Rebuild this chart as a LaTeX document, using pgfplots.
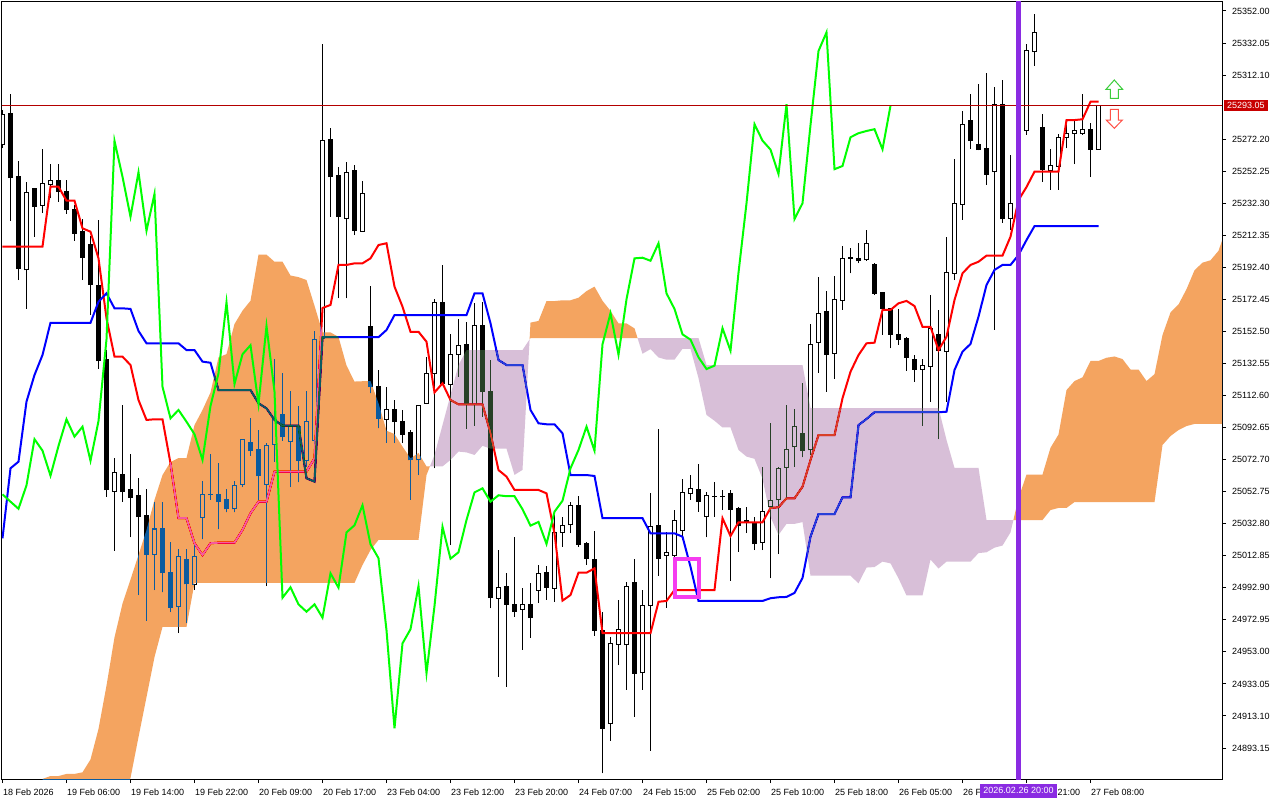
\documentclass[border=0pt]{standalone}
\usepackage{pgfplots}
\pgfplotsset{compat=1.18}
\usepackage{pgfplotstable}
\usepackage{fontspec}
\setmainfont{Liberation Sans}
\definecolor{cloudO}{HTML}{0B5B9F}% complement of sandybrown, used with difference blending
\definecolor{cloudT}{HTML}{274027}% complement of thistle
\definecolor{tenkan}{HTML}{FF0000}
\definecolor{kijun}{HTML}{0000FF}
\definecolor{chikou}{HTML}{00FF00}
\definecolor{vline}{HTML}{8A2BE2}
\definecolor{pline}{HTML}{B40000}
\definecolor{pbox}{HTML}{C80000}
\definecolor{sq}{HTML}{F53CF0}

\pgfplotstableread{
x o h l c
0 25269.0 25290.4 25266.7 25287.7
1 25287.9 25300.3 25221.3 25248.2
2 25248.7 25258.6 25184.5 25191.6
3 25190.9 25245.4 25166.5 25238.7
4 25241.2 25241.8 25211.5 25230.2
5 25231.0 25266.1 25226.2 25244.3
6 25244.1 25256.7 25235.4 25246.2
7 25246.2 25256.7 25233.3 25239.5
8 25239.9 25246.8 25225.8 25228.3
9 25228.7 25231.2 25209.0 25213.6
10 25214.6 25222.3 25184.5 25198.4
11 25206.8 25211.9 25162.7 25181.6
12 25181.4 25221.9 25129.3 25134.1
13 25135.2 25140.9 25049.6 25053.8
14 25053.0 25073.9 25016.0 25064.6
15 25063.7 25106.7 25046.5 25052.7
16 25053.8 25076.2 25024.3 25049.2
17 25050.1 25061.1 24988.4 25037.2
18 25037.6 25054.2 24972.4 25013.9
19 25013.8 25046.5 24991.5 25029.5
20 25029.5 25046.5 24990.1 25002.3
21 25002.7 25021.6 24977.8 24980.8
22 24981.4 25017.2 24964.6 25012.1
23 25010.8 25016.9 24970.8 24995.4
24 24995.1 25022.7 24991.5 25012.1
25 25036.8 25059.4 25023.1 25051.1
26 25050.9 25076.2 25047.6 25051.1
27 25051.1 25070.8 25029.3 25046.5
28 25047.6 25054.2 25039.9 25042.1
29 25042.1 25059.4 25039.9 25056.7
30 25057.3 25085.8 25055.5 25085.4
31 25083.5 25098.4 25075.1 25078.3
32 25079.1 25091.1 25047.6 25062.7
33 25057.3 25082.9 24994.0 25081.2
34 25082.2 25135.3 25071.4 25097.8
35 25100.5 25126.4 25084.5 25087.0
36 25083.9 25115.4 25055.5 25093.2
37 25093.2 25106.1 25058.6 25072.0
38 25072.0 25115.4 25068.3 25096.7
39 25084.9 25152.8 25081.8 25147.6
40 25148.4 25331.5 25144.1 25271.1
41 25272.3 25279.0 25223.9 25248.8
42 25249.5 25254.7 25173.1 25223.9
43 25222.7 25257.8 25173.1 25251.6
44 25252.4 25256.1 25212.5 25215.2
45 25214.8 25246.2 25214.4 25238.1
46 25155.4 25180.8 25114.0 25118.1
47 25118.5 25128.5 25092.2 25098.4
48 25097.8 25117.7 25083.2 25103.6
49 25103.6 25109.8 25082.9 25096.3
50 25096.7 25103.6 25082.9 25088.5
51 25089.7 25091.1 25047.6 25072.5
52 25072.5 25106.7 25063.1 25106.1
53 25107.8 25136.4 25107.3 25126.4
54 25126.4 25172.5 25067.3 25170.6
55 25170.6 25193.9 25119.2 25119.8
56 25119.6 25150.7 25019.5 25138.3
57 25138.3 25160.2 25124.3 25143.9
58 25144.5 25158.2 25091.8 25107.3
59 25107.3 25170.4 25093.8 25155.9
60 25155.9 25171.0 25099.4 25115.0
61 25115.4 25134.7 24980.1 24986.7
62 24986.4 25016.4 24937.5 24993.2
63 24994.0 25001.9 24931.3 24982.6
64 24982.2 25024.7 24974.9 24978.0
65 24979.5 24992.6 24954.2 24982.6
66 24982.2 24996.1 24961.8 24974.3
67 24991.5 25007.1 24983.3 25001.9
68 25002.7 25006.5 24985.3 24993.0
69 24992.6 25040.9 24984.2 25027.4
70 25027.4 25037.2 25018.5 25031.8
71 25032.0 25046.5 25026.8 25044.3
72 25044.3 25050.1 25018.5 25020.0
73 25020.6 25021.4 25007.1 25011.3
74 25010.6 25028.3 24962.9 24966.4
75 24966.6 24977.6 24877.4 24905.4
76 24908.5 24962.1 24897.7 24958.3
77 24957.7 24985.3 24944.8 24967.1
78 24957.3 24996.7 24929.3 24994.0
79 24996.3 25010.6 24912.6 24939.7
80 24940.0 24991.5 24929.3 24981.6
81 24981.8 25051.7 24891.5 25030.9
82 25031.4 25091.6 25000.4 25011.0
83 25013.1 25027.4 24980.5 25015.0
84 25013.3 25041.3 25010.2 25035.1
85 25028.3 25060.4 25022.7 25052.3
86 25051.7 25063.1 25047.6 25054.8
87 25054.4 25070.0 25040.3 25046.5
88 25037.2 25052.3 25024.3 25050.5
89 25049.7 25058.8 25037.2 25049.9
90 25049.7 25053.8 25041.3 25049.9
91 25051.9 25053.8 24997.3 25041.8
92 25042.0 25043.0 25015.4 25031.6
93 25034.5 25043.2 25027.0 25033.9
94 25033.4 25037.2 25016.4 25020.2
95 25021.2 25068.3 25016.4 25040.3
96 25043.4 25095.3 24998.8 25047.1
97 25047.6 25068.3 25013.8 25067.3
98 25067.9 25106.5 25048.6 25078.7
99 25080.7 25104.0 25068.3 25093.2
100 25089.1 25120.2 25074.1 25078.3
101 25078.7 25157.1 25075.6 25144.5
102 25145.7 25186.2 25126.8 25163.8
103 25164.6 25177.9 25115.0 25138.0
104 25138.9 25187.0 25123.1 25172.5
105 25171.9 25205.7 25165.9 25198.0
106 25198.1 25204.6 25188.7 25198.4
107 25198.0 25207.4 25194.9 25196.5
108 25197.0 25215.7 25196.4 25207.4
109 25193.9 25194.9 25175.2 25176.2
110 25176.6 25177.2 25150.3 25166.5
111 25166.9 25167.4 25142.0 25150.7
112 25150.9 25166.3 25144.1 25147.4
113 25147.8 25148.9 25128.1 25136.4
114 25135.3 25137.8 25121.2 25129.1
115 25128.9 25135.2 25093.8 25131.2
116 25130.6 25175.2 25108.8 25154.5
117 25150.9 25165.9 25085.5 25140.5
118 25139.9 25211.1 25108.8 25189.1
119 25188.7 25259.7 25184.5 25232.3
120 25231.7 25289.7 25221.9 25281.5
121 25284.1 25300.1 25266.1 25271.3
122 25269.0 25306.6 25265.2 25265.7
123 25266.5 25313.2 25243.7 25250.5
124 25252.0 25304.5 25153.4 25293.9
125 25293.9 25309.0 25220.2 25222.5
126 25222.9 25262.4 25215.7 25232.3
127 25231.2 25285.4 25226.9 25281.0
128 25277.9 25331.3 25274.8 25327.1
129 25326.7 25350.1 25318.0 25338.7
130 25279.4 25287.9 25245.7 25253.5
131 25253.0 25265.9 25240.6 25255.5
132 25255.1 25275.2 25240.6 25273.4
133 25273.4 25284.1 25266.5 25275.9
134 25275.9 25283.7 25256.6 25277.3
135 25275.9 25300.1 25274.8 25278.4
136 25278.4 25282.1 25248.5 25265.9
137 25265.9 25293.05 25265.9 25293.05
}\candles

\begin{document}
\begin{tikzpicture}
\path[use as bounding box] (0pt,0pt) rectangle (1280pt,-800pt);
\fill[white] (0pt,0pt) rectangle (1280pt,-800pt);
\begin{axis}[
  at={(2pt,-2pt)}, anchor=north west,
  width=1220pt, height=777pt, scale only axis,
  xmin=-0.0625, xmax=152.4375,
  ymin=24873.85, ymax=25357.6,
  axis line style={black, line width=1pt},
  tick style={black, line width=1pt},
  tick align=outside,
  major tick length=4pt,
  xtick pos=left, ytick pos=right,
  xticklabel pos=left, yticklabel pos=right,
  xtick={0,8,...,136},
  xticklabels={18 Feb 2026,19 Feb 06:00,19 Feb 14:00,19 Feb 22:00,20 Feb 09:00,20 Feb 17:00,23 Feb 04:00,23 Feb 12:00,23 Feb 20:00,24 Feb 07:00,24 Feb 15:00,25 Feb 02:00,25 Feb 10:00,25 Feb 18:00,26 Feb 05:00,26 Feb 13:00,26 Feb 21:00,27 Feb 08:00},
  ytick={25352.00,25332.05,25312.10,25272.20,25252.25,25232.30,25212.35,25192.40,25172.45,25152.50,25132.55,25112.60,25092.65,25072.70,25052.75,25032.80,25012.85,24992.90,24972.95,24953.00,24933.05,24913.10,24893.15},
  yticklabels={25352.00,25332.05,25312.10,25272.20,25252.25,25232.30,25212.35,25192.40,25172.45,25152.50,25132.55,25112.60,25092.65,25072.70,25052.75,25032.80,25012.85,24992.90,24972.95,24953.00,24933.05,24913.10,24893.15},
  xticklabel style={anchor=north west, inner sep=0pt, xshift=0.5pt, yshift=-5.3pt},
  yticklabel style={anchor=west, inner sep=0pt, xshift=6pt},
  ticklabel style={font=\fontsize{9}{10}\selectfont},
]
% wicks
\addplot[draw=none, mark=none, forget plot,
  error bars/.cd, y dir=plus, y explicit, error mark=none,
  error bar style={draw=black, line width=1pt}]
  table[x=x, y=l, y error expr={\thisrow{h}-\thisrow{l}}] {\candles};
% bodies (black outline / filled)
\addplot[draw=none, mark=none, forget plot,
  error bars/.cd, y dir=plus, y explicit, error mark=none,
  error bar style={draw=black, line width=5pt}]
  table[x=x, y expr={min(\thisrow{o},\thisrow{c})-0.311}, y error expr={abs(\thisrow{c}-\thisrow{o})+0.622}] {\candles};
% hollow interiors of rising candles
\addplot[draw=none, mark=none, forget plot,
  error bars/.cd, y dir=plus, y explicit, error mark=none,
  error bar style={draw=white, line width=3pt}]
  table[x=x, y expr={\thisrow{o}+0.311}, y error expr={max(\thisrow{c}-\thisrow{o}-0.622,0)}] {\candles};

% Tenkan-sen
\addplot[tenkan, line width=2pt, mark=none] coordinates {
(0,25205.3) (1,25205.3) (2,25205.3) (3,25205.3) (4,25205.3) (5,25205.3) (6,25242.6) (7,25242.6) (8,25233.9) (9,25233.9)
(10,25216.7) (11,25214.6) (12,25198.0) (13,25160.7) (14,25136.8) (15,25136.8) (16,25131.6) (17,25109.8) (18,25097.4) (19,25097.8)
(20,25097.8) (21,25070.4) (22,25036.2) (23,25036.2) (24,25020.6) (25,25013.3) (26,25020.6) (27,25021.0) (28,25021.0) (29,25021.0)
(30,25028.9) (31,25039.3) (32,25046.5) (33,25046.5) (34,25065.2) (35,25065.2) (36,25065.2) (37,25065.2) (38,25065.2) (39,25073.5)
(40,25167.1) (41,25169.0) (42,25193.9) (43,25193.9) (44,25194.9) (45,25194.9) (46,25198.0) (47,25206.3) (48,25207.4) (49,25180.4)
(50,25167.9) (51,25152.3) (52,25152.3) (53,25146.1) (54,25114.5) (55,25120.2) (56,25109.8) (57,25107.1) (58,25107.1) (59,25107.1)
(60,25107.1) (61,25089.1) (62,25066.2) (63,25062.1) (64,25053.8) (65,25053.8) (66,25053.8) (67,25053.8) (68,25051.7) (69,25026.8)
(70,24984.9) (71,24988.4) (72,25002.3) (73,25002.3) (74,25005.0) (75,24964.6) (76,24964.6) (77,24964.6) (78,24964.6) (79,24964.6)
(80,24964.6) (81,24964.6) (82,24984.2) (83,24984.7) (84,24991.5) (85,24991.5) (86,24991.5) (87,24991.5) (88,24991.5) (89,24991.5)
(90,25036.2) (91,25025.1) (92,25033.7) (93,25033.7) (94,25033.7) (95,25033.7) (96,25042.6) (97,25043.0) (98,25048.6) (99,25048.6)
(100,25055.8) (101,25072.5) (102,25088.0) (103,25088.0) (104,25088.0) (105,25110.9) (106,25127.4) (107,25137.8) (108,25145.1) (109,25145.5)
(110,25165.9) (111,25165.9) (112,25170.0) (113,25171.5) (114,25168.3) (115,25155.4) (116,25155.3) (117,25140.9) (118,25149.2) (119,25172.1)
(120,25188.7) (121,25193.9) (122,25195.9) (123,25199.7) (124,25199.7) (125,25199.7) (126,25211.5) (127,25234.3) (128,25242.4) (129,25252.0)
(130,25252.0) (131,25252.0) (132,25252.0) (133,25284.1) (134,25284.1) (135,25284.6) (136,25295.5) (137,25295.5)
};
% Kijun-sen
\addplot[kijun, line width=2pt, mark=none] coordinates {
(0,25023.7) (1,25067.3) (2,25071.4) (3,25108.8) (4,25125.4) (5,25137.8) (6,25157.9) (7,25157.9) (8,25157.9) (9,25157.9)
(10,25157.9) (11,25157.9) (12,25171.0) (13,25176.2) (14,25166.9) (15,25166.9) (16,25166.5) (17,25152.8) (18,25145.1) (19,25145.1)
(20,25145.1) (21,25145.1) (22,25145.1) (23,25140.9) (24,25140.9) (25,25133.7) (26,25133.0) (27,25116.0) (28,25116.0) (29,25116.0)
(30,25116.0) (31,25116.0) (32,25107.8) (33,25104.6) (34,25097.4) (35,25093.8) (36,25093.8) (37,25093.8) (38,25061.1) (39,25059.0)
(40,25148.9) (41,25148.9) (42,25148.9) (43,25148.9) (44,25148.9) (45,25148.9) (46,25148.9) (47,25148.9) (48,25153.4) (49,25162.7)
(50,25162.7) (51,25162.7) (52,25162.7) (53,25162.7) (54,25162.7) (55,25162.7) (56,25162.7) (57,25162.7) (58,25162.7) (59,25176.2)
(60,25176.2) (61,25157.6) (62,25134.7) (63,25131.6) (64,25131.6) (65,25131.6) (66,25103.6) (67,25095.3) (68,25094.7) (69,25094.7)
(70,25089.1) (71,25063.1) (72,25063.1) (73,25063.1) (74,25062.5) (75,25036.2) (76,25036.2) (77,25036.2) (78,25036.2) (79,25036.2)
(80,25036.2) (81,25026.8) (82,25026.8) (83,25026.8) (84,25026.8) (85,25024.7) (86,25006.0) (87,24984.7) (88,24984.7) (89,24984.7)
(90,24984.7) (91,24984.7) (92,24984.7) (93,24984.7) (94,24984.7) (95,24984.7) (96,24986.4) (97,24987.0) (98,24987.2) (99,24989.7)
(100,24999.0) (101,25024.7) (102,25038.8) (103,25038.8) (104,25038.8) (105,25049.2) (106,25049.2) (107,25094.2) (108,25098.0) (109,25102.2)
(110,25102.2) (111,25102.2) (112,25102.2) (113,25102.2) (114,25102.2) (115,25102.2) (116,25102.2) (117,25102.2) (118,25102.5) (119,25128.5)
(120,25139.9) (121,25144.7) (122,25161.7) (123,25181.4) (124,25190.8) (125,25193.9) (126,25193.9) (127,25200.1) (128,25209.4) (129,25218.1)
(130,25218.1) (131,25218.1) (132,25218.1) (133,25218.1) (134,25218.1) (135,25218.1) (136,25218.1) (137,25218.1)
};

% Kumo (Senkou span A / B), drawn with difference blending like the terminal does
\addplot[fill=cloudO, draw=none, blend mode=difference] coordinates {
(5,24873.9) (6,24875.7) (7,24875.7) (8,24877.0) (9,24877.0) (10,24878.0) (11,24886.0) (12,24905.0) (13,24932.0) (14,24962.0) (15,24983.0) (16,24998.0) (17,25013.3)
(18,25028.9) (19,25047.6) (20,25063.1) (21,25071.2) (22,25073.7) (23,25073.7) (24,25094.2) (25,25103.6) (26,25114.5) (27,25136.3)
(28,25138.4) (29,25157.1) (30,25165.4) (31,25171.6) (32,25200.3) (33,25200.3) (34,25195.9) (35,25195.9) (36,25187.3) (37,25186.3)
(38,25184.5) (39,25168.5) (40,25151.9) (41,25151.9) (42,25149.1) (43,25131.3) (44,25121.3) (45,25121.5) (46,25121.5) (47,25107.8)
(48,25090.7) (49,25088.6) (50,25080.8) (51,25073.5) (52,25076.8) (53,25068.5) (53.43,25068.5)
(53,25063.1) (52,25022.7) (47,25022.7) (46,25016.4) (45,25007.1) (44,24995.9) (24,24995.9) (23,24968.5) (20,24968.5) (19,24949.8)
(18,24924.9) (17,24900.0) (16,24874.5) (15,24860) (5,24860)
} --cycle;
\addplot[fill=cloudT, draw=none, blend mode=difference] coordinates {
(53.43,25068.5) (54,25075.6) (55,25094.2) (56,25112.9) (57,25131.6) (58,25140.9) (65,25140.9) (65.886,25147.5)
(65,25066.3) (64,25063.2) (63,25079.5) (61,25079.5) (60,25081.3) (59,25075.6) (58,25077.2) (57,25077.7) (56,25072.5) (55,25068.5) (54,25068.5)
} --cycle;
\addplot[fill=cloudO, draw=none, blend mode=difference] coordinates {
(65.886,25147.5) (66,25158.0) (67,25159.0) (68,25171.4) (69,25171.4) (70,25171.9) (71,25171.9) (72,25173.5) (73,25177.6) (74,25180.4)
(75,25171.6) (76,25165.3) (77,25157.5) (78,25157.5) (79,25154.4) (79.38,25148.4) (66,25148.4)
} --cycle;
\addplot[fill=cloudT, draw=none, blend mode=difference] coordinates {
(79.38,25148.4) (87,25148.4) (88,25131.6) (100,25131.6) (101,25104.8) (117,25104.8) (118,25084.9) (119,25067.5) (122,25067.5) (123,25035.1) (126.36,25035.1)
(126,25027.4) (125,25019.2) (124,25017.9) (123,25015.0) (122,25014.5) (121,25009.2) (118,25009.2) (117,25004.9) (116,25010.5) (115,24988.1)
(113,24988.1) (112,24998.8) (111,25008.1) (110,25009.2) (109,25005.8) (108,25005.5) (107,24995.7) (106,25000.4) (101,25000.4) (100,25033.8)
(99,25032.7) (98,25032.7) (97,25025.8) (96,25037.0) (95,25060.8) (94,25073.2) (93,25074.6) (92,25078.7) (91,25092.7) (90,25092.7)
(89,25096.9) (88,25100.5) (87,25123.4) (86,25141.7) (85,25141.7) (84,25134.9) (83,25134.9) (82,25136.3) (81,25141.5) (80,25138.6)
} --cycle;
\addplot[fill=cloudO, draw=none, blend mode=difference] coordinates {
(126.36,25035.1) (127,25048.6) (128,25063.4) (130,25063.4) (131,25080.1) (132,25088.3) (133,25116.0) (134,25121.6) (135,25123.9) (136,25134.1)
(137,25134.1) (138,25136.1) (139,25136.9) (140,25135.3) (141,25128.8) (142,25128.8) (143,25121.6) (144,25125.9) (145,25150.3) (146,25164.3)
(147,25169.3) (148,25178.8) (149,25190.6) (150,25195.3) (151,25196.8) (152,25202.7) (153,25217.2)
(153,25094.9) (149,25094.9) (148,25093.6) (147,25091.1) (146,25087.4) (145,25081.8) (144,25046.3) (134,25046.3) (133,25042.6) (132,25042.6)
(131,25041.3) (130,25035.1)
} --cycle;

% Chikou span
\addplot[chikou, line width=2pt, mark=none] coordinates {
(0,25051.1) (1,25046.5) (2,25042.1) (3,25056.7) (4,25085.4) (5,25078.3) (6,25062.7) (7,25081.2) (8,25097.8) (9,25087.0)
(10,25093.2) (11,25072.0) (12,25096.7) (13,25147.6) (14,25271.1) (15,25248.8) (16,25223.9) (17,25251.6) (18,25215.2) (19,25238.1)
(20,25118.1) (21,25098.4) (22,25103.6) (23,25096.3) (24,25088.5) (25,25072.5) (26,25106.1) (27,25126.4) (28,25170.6) (29,25119.8)
(30,25138.3) (31,25143.9) (32,25107.3) (33,25155.9) (34,25115.0) (35,24986.7) (36,24993.2) (37,24982.6) (38,24978.0) (39,24982.6)
(40,24974.3) (41,25001.9) (42,24993.0) (43,25027.4) (44,25031.8) (45,25044.3) (46,25020.0) (47,25011.3) (48,24966.4) (49,24905.4)
(50,24958.3) (51,24967.1) (52,24994.0) (53,24939.7) (54,24981.6) (55,25030.9) (56,25011.0) (57,25015.0) (58,25035.1) (59,25052.3)
(60,25054.8) (61,25046.5) (62,25050.5) (63,25049.9) (64,25049.9) (65,25041.8) (66,25031.6) (67,25033.9) (68,25020.2) (69,25040.3)
(70,25047.1) (71,25067.3) (72,25078.7) (73,25093.2) (74,25078.3) (75,25144.5) (76,25163.8) (77,25138.0) (78,25172.5) (79,25198.0)
(80,25198.4) (81,25196.5) (82,25207.4) (83,25176.2) (84,25166.5) (85,25150.7) (86,25147.4) (87,25136.4) (88,25129.1) (89,25131.2)
(90,25154.5) (91,25140.5) (92,25189.1) (93,25232.3) (94,25281.5) (95,25271.3) (96,25265.7) (97,25250.5) (98,25293.9) (99,25222.5)
(100,25232.3) (101,25281.0) (102,25327.1) (103,25338.7) (104,25253.5) (105,25255.5) (106,25273.4) (107,25275.9) (108,25277.3) (109,25278.4)
(110,25265.9) (111,25293.05)
};

% current price line
\addplot[pline, line width=1pt, mark=none] coordinates {(-1,25293.05) (154,25293.05)};
% vertical marker line
\addplot[vline, line width=5pt, mark=none] coordinates {(127,24850) (127,25370)};
% magenta square
\addplot[sq, line width=4pt, mark=none, line join=miter] coordinates {(84,25010.6) (87,25010.6) (87,24987.0) (84,24987.0)} --cycle;
\end{axis}

% price label on the right scale
\node[fill=pbox, text=white, inner xsep=3pt, inner ysep=0pt, minimum height=11.5pt, anchor=west,
  font=\fontsize{9}{10}\selectfont] at (1224pt,-105.7pt) {25293.05};
% date label of the vertical line
\node[fill=vline, text=white, inner xsep=3.5pt, inner ysep=0pt, minimum height=14pt, anchor=north,
  font=\fontsize{9}{10}\selectfont] at (1018.5pt,-783.5pt) {2026.02.26 20:00};
% buy / sell arrows
\draw[line width=1pt, color={rgb,255:red,60;green,205;blue,60}, line join=miter]
  (1106pt,-89.3pt) -- (1114.3pt,-80pt) -- (1122.6pt,-89.3pt) -- (1118.3pt,-89.3pt) -- (1118.3pt,-98.3pt) -- (1110.3pt,-98.3pt) -- (1110.3pt,-89.3pt) -- cycle;
\draw[line width=1pt, color={rgb,255:red,255;green,80;blue,70}, line join=miter]
  (1110.3pt,-109.3pt) -- (1118.3pt,-109.3pt) -- (1118.3pt,-120pt) -- (1122.4pt,-120pt) -- (1114.3pt,-128.3pt) -- (1106.2pt,-120pt) -- (1110.3pt,-120pt) -- cycle;
\end{tikzpicture}
\end{document}
